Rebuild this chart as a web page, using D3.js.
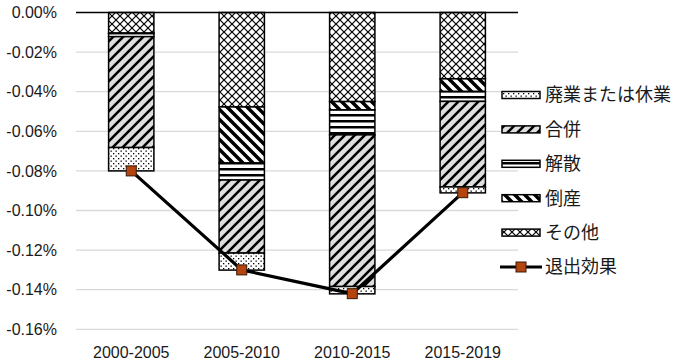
<!DOCTYPE html>
<html>
<head>
<meta charset="utf-8">
<script src="https://cdn.jsdelivr.net/npm/d3@7"></script>
<style>
body { margin: 0; background: #fff; }
svg { display: block; }
</style>
</head>
<body>
<div id="chart"></div>
<script>
// exit effect by reason, stacked bars + total line (values in %)

var periods = ["2000-2005", "2005-2010", "2010-2015", "2015-2019"]
// stacked from 0 downward, top first
var other   = [-0.0104, -0.0477, -0.0450, -0.0335]   // その他
var bankr   = [-0.0003, -0.0283, -0.0042, -0.0064]   // 倒産
var dissol  = [-0.0015, -0.0086, -0.0126, -0.0050]   // 解散
var merger  = [-0.0560, -0.0369, -0.0766, -0.0432]   // 合併
var closure = [-0.0118, -0.0086, -0.0037, -0.0030]   // 廃業または休業
var exitEff = [-0.080, -0.130, -0.142, -0.091]       // 退出効果
var yTicks = [0, -0.02, -0.04, -0.06, -0.08, -0.10, -0.12, -0.14, -0.16]

var W = 680, H = 364
var plotL = 76, plotR = 518, plotT = 12.5, plotB = 329.3

var svg = d3.select("#chart").append("svg")
    .attr("width", W).attr("height", H)

var defs = svg.append("defs")

function pat(id, w, h, bg){
    var p = defs.append("pattern").attr("id", id)
        .attr("patternUnits", "userSpaceOnUse")
        .attr("width", w).attr("height", h)
    p.append("rect").attr("width", w).attr("height", h).attr("fill", bg)
    return p
}

// dots
var p1 = pat("p-dots", 5, 5, "#fff")
p1.append("rect").attr("x", 0.5).attr("y", 0.5).attr("width", 1.3).attr("height", 1.3).attr("fill", "#000")
p1.append("rect").attr("x", 3).attr("y", 3).attr("width", 1.3).attr("height", 1.3).attr("fill", "#000")

// wide upward diagonal on gray
var p2 = pat("p-fwd", 10, 10, "#dedede")
p2.append("path").attr("d", "M-3,3 L3,-3 M0,10 L10,0 M7,13 L13,7")
    .attr("stroke", "#000").attr("stroke-width", 2.6)

// horizontal lines
var p3 = pat("p-horz", 6, 6, "#fff")
p3.append("rect").attr("x", 0).attr("y", 0).attr("width", 6).attr("height", 2.5).attr("fill", "#000")

// wide downward diagonal
var p4 = pat("p-back", 10, 10, "#fff")
p4.append("path").attr("d", "M-3,7 L3,13 M0,0 L10,10 M7,-3 L13,3")
    .attr("stroke", "#000").attr("stroke-width", 3.5)

// outlined diamond
var p5 = pat("p-diam", 8, 8, "#fff")
p5.append("path").attr("d", "M0,0 L8,8 M8,0 L0,8")
    .attr("stroke", "#000").attr("stroke-width", 1.2)

var series = [
    {name: "その他", vals: other, fill: "url(#p-diam)"},
    {name: "倒産", vals: bankr, fill: "url(#p-back)"},
    {name: "解散", vals: dissol, fill: "url(#p-horz)"},
    {name: "合併", vals: merger, fill: "url(#p-fwd)"},
    {name: "廃業または休業", vals: closure, fill: "url(#p-dots)"}
]

var x = d3.scaleBand().domain(periods).range([plotL, plotR]).paddingInner(0.59).paddingOuter(0.295)
var y = d3.scaleLinear().domain([0, -0.16]).range([plotT, plotB])

// gridlines
svg.append("g").selectAll("line").data(yTicks.slice(1)).join("line")
    .attr("x1", plotL).attr("x2", plotR)
    .attr("y1", function(d){ return y(d) }).attr("y2", function(d){ return y(d) })
    .attr("stroke", "#d9d9d9").attr("stroke-width", 1.3)

// y labels
svg.append("g").selectAll("text").data(yTicks).join("text")
    .attr("x", 57).attr("y", function(d){ return y(d) })
    .attr("dy", "0.36em")
    .attr("text-anchor", "end")
    .style("font-family", "Liberation Sans, Arial, sans-serif")
    .style("font-size", "16px")
    .attr("fill", "#1a1a1a")
    .text(function(d){ return d.toFixed(2) + "%" })

// stacked bars
periods.forEach(function(p, i){
    var acc = 0
    series.forEach(function(s){
        var y0 = acc, y1 = acc + s.vals[i]
        acc = y1
        svg.append("rect")
            .attr("x", x(p)).attr("width", x.bandwidth())
            .attr("y", y(y0)).attr("height", y(y1) - y(y0))
            .attr("fill", s.fill)
            .attr("stroke", "#000").attr("stroke-width", 1.5)
    })
})

// zero axis
svg.append("line").attr("x1", plotL).attr("x2", plotR)
    .attr("y1", y(0)).attr("y2", y(0))
    .attr("stroke", "#000").attr("stroke-width", 1.5)

// x labels
svg.append("g").selectAll("text").data(periods).join("text")
    .attr("x", function(d){ return x(d) + x.bandwidth() / 2 })
    .attr("y", 352).attr("dy", "0.36em")
    .attr("text-anchor", "middle")
    .style("font-family", "Liberation Sans, Arial, sans-serif")
    .style("font-size", "16px")
    .attr("fill", "#1a1a1a")
    .text(function(d){ return d })

// exit effect line
var line = d3.line()
    .x(function(d, i){ return x(periods[i]) + x.bandwidth() / 2 })
    .y(function(d){ return y(d) })
svg.append("path").attr("d", line(exitEff))
    .attr("fill", "none").attr("stroke", "#000").attr("stroke-width", 3.2)
svg.append("g").selectAll("rect").data(exitEff).join("rect")
    .attr("x", function(d, i){ return x(periods[i]) + x.bandwidth() / 2 - 5 })
    .attr("y", function(d){ return y(d) - 5 })
    .attr("width", 10).attr("height", 10)
    .attr("fill", "#b4450e").attr("stroke", "#3a1a08").attr("stroke-width", 1)

// legend
var legItems = series.slice().reverse()
var lg = svg.append("g")
var rowY = function(i){ return 95 + i * 34.4 }
legItems.forEach(function(s, i){
    lg.append("rect").attr("x", 502).attr("y", rowY(i) - 3.5)
        .attr("width", 38).attr("height", 7)
        .attr("fill", s.fill).attr("stroke", "#000").attr("stroke-width", 1.5)
})
var li = legItems.length
lg.append("line").attr("x1", 500).attr("x2", 542)
    .attr("y1", rowY(li)).attr("y2", rowY(li))
    .attr("stroke", "#000").attr("stroke-width", 3.2)
lg.append("rect").attr("x", 516).attr("y", rowY(li) - 5).attr("width", 10).attr("height", 10)
    .attr("fill", "#b4450e").attr("stroke", "#3a1a08").attr("stroke-width", 1)

var names = legItems.map(function(s){ return s.name }).concat(["退出効果"])
lg.selectAll("text").data(names).join("text")
    .attr("x", 545).attr("y", function(d, i){ return rowY(i) })
    .attr("dy", "0.36em")
    .style("font-family", "Noto Sans CJK JP, sans-serif")
    .style("font-size", "18px")
    .attr("fill", "#1a1a1a")
    .text(function(d){ return d })
</script>
</body>
</html>
